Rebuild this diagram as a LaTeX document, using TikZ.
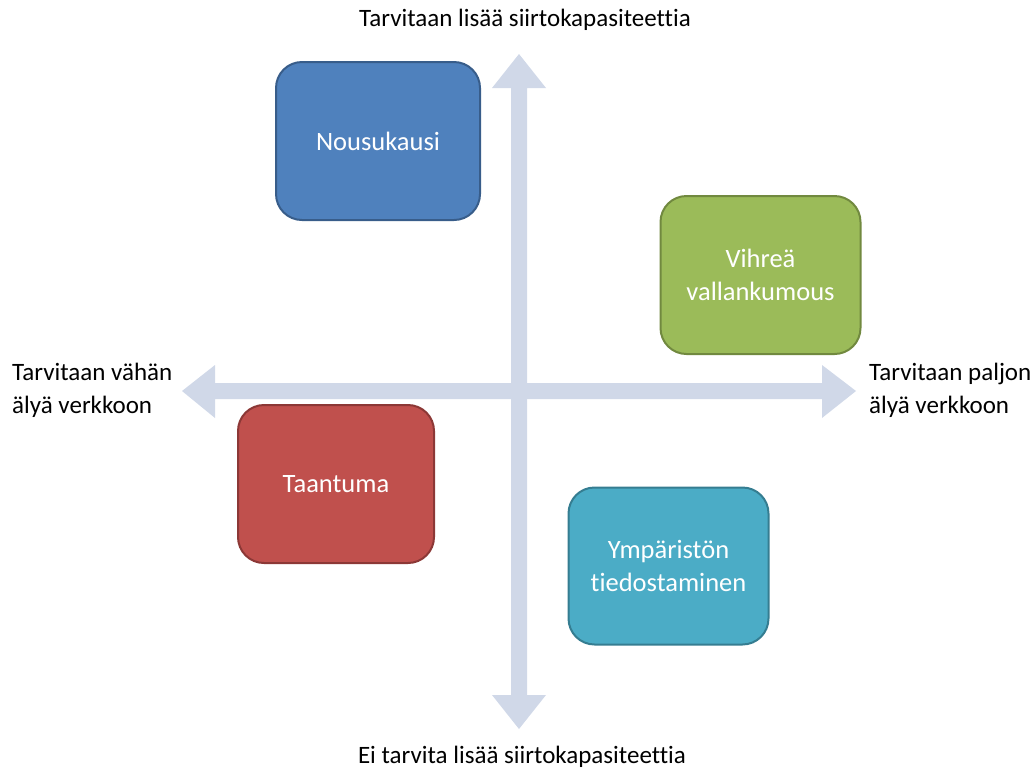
\documentclass[tikz,border=0pt]{standalone}
\usepackage{fontspec}
\setmainfont[RawFeature={-liga;-clig;-calt}]{Carlito}
\definecolor{axis}{HTML}{D0D8E8}
\definecolor{blueF}{HTML}{4F81BD}\definecolor{blueD}{HTML}{385D8A}
\definecolor{greenF}{HTML}{9BBB59}\definecolor{greenD}{HTML}{71893F}
\definecolor{redF}{HTML}{C0504D}\definecolor{redD}{HTML}{8C3836}
\definecolor{aquaF}{HTML}{4BACC6}\definecolor{aquaD}{HTML}{357D91}
\tikzset{
  quad/.style={rounded corners=26pt, line width=2pt, minimum width=202pt,
    minimum height=157pt, text=white, align=center,
    font=\fontsize{26.5}{33}\selectfont},
  lbl/.style={font=\fontsize{25}{33}\selectfont, text=black, inner sep=0pt}
}
\begin{document}
\begin{tikzpicture}[x=1pt,y=-1pt]
\useasboundingbox (0,0) rectangle (1035,769);
% axis ends
\coordinate (top) at (519,54);
\coordinate (bot) at (519,729);
\coordinate (lft) at (182,391);
\coordinate (rgt) at (856,391);
% vertical double arrow
\fill[axis] (top) -- ++(27,34) -- ++(-19,0) -- (527,695) -- ++(19,0)
  -- (bot) -- (492,695) -- ++(19,0) -- (511,88) -- (492,88) -- cycle;
% horizontal double arrow
\fill[axis] (lft) -- ++(33,-26) -- ++(0,18) -- (822,383) -- ++(0,-18)
  -- (rgt) -- (822,418) -- ++(0,-19) -- (215,399) -- ++(0,19) -- cycle;
% quadrant boxes
\node[quad, fill=blueF, draw=blueD, minimum width=204pt, minimum height=158pt] (nousu) at (378,141) {Nousukausi};
\node[quad, fill=greenF, draw=greenD, minimum width=200pt, minimum height=158pt] (vihrea) at (760.5,275) {Vihreä\\vallankumous};
\node[quad, fill=redF, draw=redD, minimum width=196pt, minimum height=158pt] (taantuma) at (336,484) {Taantuma};
\node[quad, fill=aquaF, draw=aquaD, minimum width=200pt, minimum height=157pt] (ymparisto) at (668.5,566) {Ympäristön\\tiedostaminen};
% axis labels
\node[lbl] (ltop) at (525,20) {Tarvitaan lisää siirtokapasiteettia};
\node[lbl] (lbot) at (522,757) {Ei tarvita lisää siirtokapasiteettia};
\node[lbl, anchor=west, align=left] (lleft) at (12,390) {Tarvitaan vähän\\älyä verkkoon};
\node[lbl, anchor=west, align=left] (lright) at (869,390) {Tarvitaan paljon\\älyä verkkoon};
\end{tikzpicture}
\end{document}
